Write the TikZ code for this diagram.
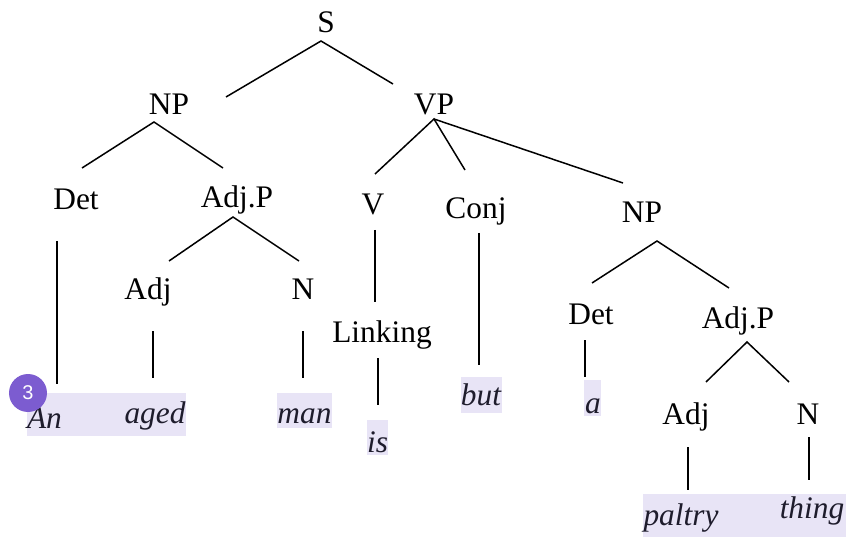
\documentclass[tikz,border=0pt]{standalone}
\usepackage{fontspec}
\setmainfont{Liberation Serif}
\newfontfamily\badgefont{Liberation Sans}
\definecolor{hilite}{HTML}{E8E4F6}
\definecolor{badge}{HTML}{7C5CD0}
\definecolor{leafink}{HTML}{1E1C2C}
\begin{document}
\begin{tikzpicture}[x=1bp,y=-1bp,
  cat/.style={anchor=base,inner sep=0pt,font=\fontsize{31.5}{36}\selectfont},
  leaf/.style={anchor=base,inner sep=0pt,text=leafink,font=\fontsize{31.5}{36}\selectfont\itshape},
  branch/.style={line width=1.5bp,line cap=butt},
  wordband/.style={fill=hilite,draw=none}]
\useasboundingbox (0,0) rectangle (846,537);

% highlighted words
\fill[wordband] (27,393) rectangle (186,436);
\fill[wordband] (277,393) rectangle (332,428);
\fill[wordband] (367,420) rectangle (388,455);
\fill[wordband] (461,377) rectangle (502,413);
\fill[wordband] (584,380) rectangle (601,416);
\fill[wordband] (643,494) rectangle (846,537);

% category labels
\node[cat] (S) at (326,33) {S};
\node[cat] (NP) at (169,115) {NP};
\node[cat] (VP) at (434,115) {VP};
\node[cat] (Det) at (76,210) {Det};
\node[cat] (AdjP) at (237,208) {Adj.P};
\node[cat] (V) at (373,215) {V};
\node[cat] (Conj) at (476,219) {Conj};
\node[cat] (NPb) at (642,223) {NP};
\node[cat] (Adj) at (148,300) {Adj};
\node[cat] (N) at (303,300) {N};
\node[cat] (Lk) at (382,342) {Linking};
\node[cat] (Detb) at (591,325) {Det};
\node[cat] (AdjPb) at (738,329) {Adj.P};
\node[cat] (Adjb) at (686,424) {Adj};
\node[cat] (Nb) at (808,424) {N};

% words
\node[leaf] (An) at (44.5,428) {An};
\node[leaf] (aged) at (155,423) {aged};
\node[leaf] (man) at (304.5,423) {man};
\node[leaf] (is) at (377.5,452) {is};
\node[leaf] (but) at (481,405) {but};
\node[leaf] (a) at (593,413) {a};
\node[leaf] (paltry) at (681,525) {paltry};
\node[leaf] (thing) at (812,518) {thing};

% branch end points
\coordinate (S-f) at (321,41);
\coordinate (NP-h) at (226,97);
\coordinate (VP-h) at (393,84);
\coordinate (NP-f) at (154,122);
\coordinate (Det-h) at (82,168);
\coordinate (AdjP-h) at (223,168);
\coordinate (VP-f) at (434,119);
\coordinate (V-h) at (375,174);
\coordinate (Conj-h) at (465,170);
\coordinate (NPb-h) at (623,183);
\coordinate (AdjP-f) at (233,217);
\coordinate (Adj-h) at (169,261);
\coordinate (N-h) at (299,261);
\coordinate (Det-f) at (57,241);
\coordinate (An-h) at (57,384);
\coordinate (V-f) at (375,230);
\coordinate (Lk-h) at (375,302);
\coordinate (Adj-f) at (153,331);
\coordinate (aged-h) at (153,378);
\coordinate (N-f) at (303,331);
\coordinate (man-h) at (303,378);
\coordinate (Lk-f) at (378,358);
\coordinate (is-h) at (378,405);
\coordinate (Conj-f) at (479,233);
\coordinate (but-h) at (479,365);
\coordinate (NPb-f) at (657,241);
\coordinate (Detb-h) at (592,283);
\coordinate (AdjPb-h) at (729,288);
\coordinate (Detb-f) at (585,340);
\coordinate (a-h) at (585,377);
\coordinate (AdjPb-f) at (747,342);
\coordinate (Adjb-h) at (706,382);
\coordinate (Nb-h) at (789,382);
\coordinate (Adjb-f) at (688,447);
\coordinate (paltry-h) at (688,490);
\coordinate (Nb-f) at (809,437);
\coordinate (thing-h) at (809,480);

% branches
\draw[branch] (NP-h) -- (S-f) -- (VP-h);
\draw[branch] (Det-h) -- (NP-f) -- (AdjP-h);
\draw[branch] (V-h) -- (VP-f) -- (Conj-h);
\draw[branch] (VP-f) -- (NPb-h);
\draw[branch] (Adj-h) -- (AdjP-f) -- (N-h);
\draw[branch] (Det-f) -- (An-h);
\draw[branch] (V-f) -- (Lk-h);
\draw[branch] (Adj-f) -- (aged-h);
\draw[branch] (N-f) -- (man-h);
\draw[branch] (Lk-f) -- (is-h);
\draw[branch] (Conj-f) -- (but-h);
\draw[branch] (Detb-h) -- (NPb-f) -- (AdjPb-h);
\draw[branch] (Detb-f) -- (a-h);
\draw[branch] (Adjb-h) -- (AdjPb-f) -- (Nb-h);
\draw[branch] (Adjb-f) -- (paltry-h);
\draw[branch] (Nb-f) -- (thing-h);

% numbered badge
\node[circle,fill=badge,minimum size=38bp,inner sep=0pt,text=white,
  font=\badgefont\fontsize{20}{24}\selectfont] (badge) at (28,393) {3};
\end{tikzpicture}
\end{document}
